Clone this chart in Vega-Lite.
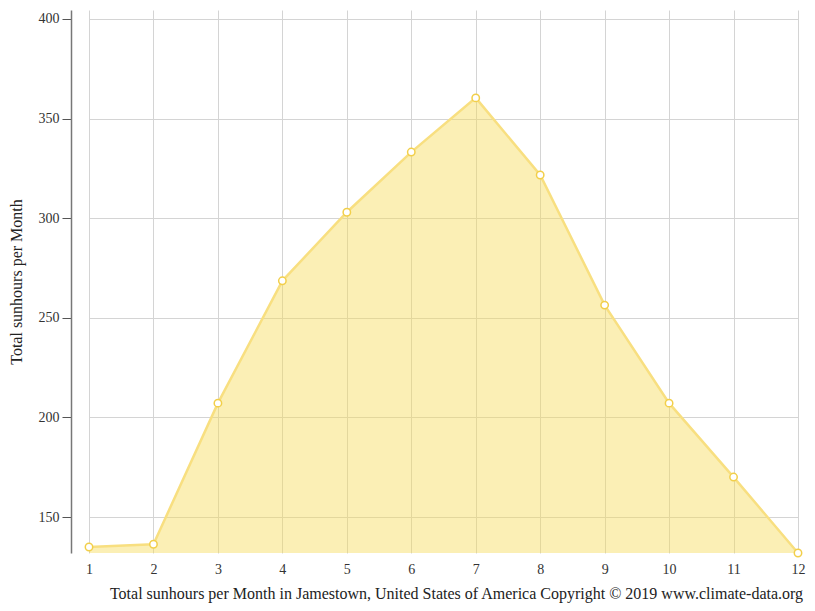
{
  "$schema": "https://vega.github.io/schema/vega-lite/v6.json",
  "width": 709,
  "height": 543,
  "autosize": {"type": "none"},
  "padding": {"left": 89, "top": 10, "right": 17, "bottom": 58},
  "background": "white",
  "config": {
    "view": {"stroke": null},
    "font": "Liberation Serif",
    "axis": {"labelFont": "Liberation Serif", "titleFont": "Liberation Serif", "labelColor": "#333", "titleColor": "#222"}
  },
  "data": {
    "values": [
      {"month": 1, "hours": 135.0},
      {"month": 2, "hours": 136.4},
      {"month": 3, "hours": 207.2},
      {"month": 4, "hours": 268.6},
      {"month": 5, "hours": 303.0},
      {"month": 6, "hours": 333.2},
      {"month": 7, "hours": 360.4},
      {"month": 8, "hours": 321.7},
      {"month": 9, "hours": 256.4},
      {"month": 10, "hours": 207.2},
      {"month": 11, "hours": 170.1},
      {"month": 12, "hours": 132.0}
    ]
  },
  "encoding": {
    "x": {
      "field": "month", "type": "quantitative",
      "scale": {"domain": [1, 12], "nice": false, "zero": false},
      "axis": {
        "values": [1,2,3,4,5,6,7,8,9,10,11,12],
        "title": "Total sunhours per Month in Jamestown, United States of America Copyright © 2019 www.climate-data.org",
        "titleFontSize": 16, "titleFontWeight": "normal", "titleX": 367, "titlePadding": 9,
        "labelFontSize": 14, "labelPadding": 9, "labelFlush": false, "labelBound": false,
        "domain": false, "ticks": false,
        "grid": true, "gridColor": "#d4d4d4", "gridWidth": 1
      }
    },
    "y": {
      "field": "hours", "type": "quantitative",
      "scale": {"domain": [132, 404.5], "nice": false, "zero": false},
      "axis": {
        "values": [150, 200, 250, 300, 350, 400],
        "title": "Total sunhours per Month",
        "titleFontSize": 16, "titleFontWeight": "normal", "titlePadding": 14,
        "labelFontSize": 14, "labelPadding": 3,
        "offset": 18,
        "domainColor": "#777", "domainWidth": 1.5,
        "tickColor": "#555", "tickSize": 9,
        "grid": true, "gridColor": "#d4d4d4", "gridWidth": 1
      }
    }
  },
  "layer": [
    {"mark": {"type": "area", "color": "#f7dc5a", "opacity": 0.45, "clip": true}},
    {"mark": {"type": "line", "color": "#f8df80", "strokeWidth": 2.5}},
    {"mark": {"type": "point", "filled": true, "fill": "white", "stroke": "#f2cf4a", "strokeWidth": 1.5, "size": 55, "opacity": 1}}
  ]
}
